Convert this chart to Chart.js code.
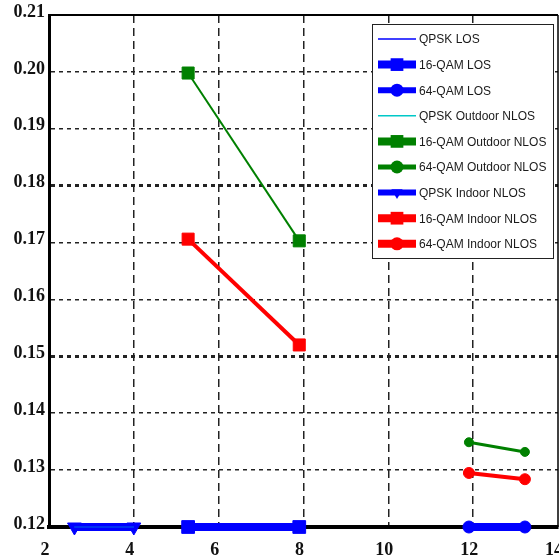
<!DOCTYPE html>
<html>
<head>
<meta charset="utf-8">
<script src="https://cdn.jsdelivr.net/npm/chart.js@4.4.1/dist/chart.umd.min.js"></script>
<style>
  html, body { margin: 0; padding: 0; background: #fff; overflow: hidden; }
  #wrap { width: 559px; height: 558px; overflow: hidden; }
</style>
</head>
<body>
<div id="wrap"><canvas id="chart" width="568" height="558"></canvas></div>
<script>
// ---------------- DATA ----------------
const xTicks = [2, 4, 6, 8, 10, 12, 14];
const yTicks = [0.12, 0.13, 0.14, 0.15, 0.16, 0.17, 0.18, 0.19, 0.20, 0.21];

const xQpsk = [2.6, 4.0];
const x16 = [5.28, 7.9];
const x64 = [11.9, 13.22];

const qpskLos = [0.12, 0.12];
const qam16Los = [0.12, 0.12];
const qam64Los = [0.12, 0.12];
const qpskOutdoor = [0.12, 0.12];
const qam16Outdoor = [0.1998, 0.1703];
const qam64Outdoor = [0.1349, 0.1332];
const qpskIndoor = [0.12, 0.12];
const qam16Indoor = [0.1706, 0.152];
const qam64Indoor = [0.1295, 0.1284];

const seriesLabels = [
  "QPSK LOS",
  "16-QAM LOS",
  "64-QAM LOS",
  "QPSK Outdoor NLOS",
  "16-QAM Outdoor NLOS",
  "64-QAM Outdoor NLOS",
  "QPSK Indoor NLOS",
  "16-QAM Indoor NLOS",
  "64-QAM Indoor NLOS",
];

const BLUE = "#0000ff";
const GREEN = "#008000";
const RED = "#ff0000";
const CYAN = "#00c8c8";

function pts(xs, ys) {
  return xs.map((x, i) => ({ x, y: ys[i] }));
}

// style per series: line width, marker, legend sample width
function series(label, xs, ys, color, width, style, radius, legendWidth, extra) {
  return Object.assign({
    label,
    data: pts(xs, ys),
    borderColor: color,
    backgroundColor: color,
    borderWidth: width,
    pointStyle: style || false,
    pointRadius: style ? radius : 0,
    pointBorderWidth: 1,
    pointBorderColor: color,
    pointBackgroundColor: color,
    legendWidth,
    clip: false,
    tension: 0,
  }, extra || {});
}

const datasets = [
  series(seriesLabels[0], xQpsk, qpskLos, BLUE, 1, null, 0, 1.5),
  series(seriesLabels[1], x16, qam16Los, BLUE, 8, "rect", 9, 8),
  series(seriesLabels[2], x64, qam64Los, BLUE, 8, "circle", 6, 6),
  series(seriesLabels[3], xQpsk, qpskOutdoor, CYAN, 1, null, 0, 1.5),
  series(seriesLabels[4], x16, qam16Outdoor, GREEN, 2, "rect", 8.5, 8),
  series(seriesLabels[5], x64, qam64Outdoor, GREEN, 3, "circle", 4.5, 5),
  series(seriesLabels[6], xQpsk, qpskIndoor, BLUE, 8, "triangle", 8, 6, { pointRotation: 180 }),
  series(seriesLabels[7], x16, qam16Indoor, RED, 4, "rect", 8.5, 8),
  series(seriesLabels[8], x64, qam64Indoor, RED, 4, "circle", 5.5, 8),
];

const tickFont = { family: "'Liberation Serif', 'DejaVu Serif', serif", weight: "bold", size: 18 };
const near = (a, b) => Math.abs(a - b) < 1e-6;

// ---------------- PLUGINS ----------------
const frame = {
  id: "frame",
  beforeDatasetsDraw(chart) {
    const { ctx, chartArea: a } = chart;
    ctx.save();
    ctx.strokeStyle = "#000";
    ctx.lineWidth = 2;
    ctx.beginPath();
    ctx.moveTo(a.left, a.top);
    ctx.lineTo(a.right, a.top);
    ctx.stroke();
    ctx.lineWidth = 1.5;
    ctx.beginPath();
    ctx.moveTo(a.right, a.top);
    ctx.lineTo(a.right, a.bottom);
    ctx.stroke();
    ctx.restore();
  },
};

// x tick labels drawn from the x scale, so they may run off the right edge like the original
const xLabels = {
  id: "xLabels",
  afterDraw(chart) {
    const { ctx, scales } = chart;
    const sx = scales.x;
    ctx.save();
    ctx.fillStyle = "#111";
    ctx.font = `${tickFont.weight} ${tickFont.size}px ${tickFont.family}`;
    ctx.textAlign = "center";
    ctx.textBaseline = "middle";
    sx.ticks.forEach((t) => {
      ctx.fillText(String(t.value), sx.getPixelForValue(t.value) - 4, chart.chartArea.bottom + 23);
    });
    ctx.restore();
  },
};

function drawMarker(ctx, style, x, y, r) {
  ctx.beginPath();
  if (style === "rect") {
    const s = r * Math.SQRT1_2;
    ctx.rect(x - s, y - s, 2 * s, 2 * s);
  } else if (style === "circle") {
    ctx.arc(x, y, r, 0, Math.PI * 2);
  } else if (style === "triangle") {
    ctx.moveTo(x - r * 0.87, y - r * 0.5);
    ctx.lineTo(x + r * 0.87, y - r * 0.5);
    ctx.lineTo(x, y + r);
    ctx.closePath();
  }
  ctx.fill();
}

const boxLegend = {
  id: "boxLegend",
  afterDraw(chart) {
    const ctx = chart.ctx;
    const left = 372, top = 24, w = 181, h = 234;
    const row0 = 39, rowH = 25.6;
    ctx.save();
    ctx.fillStyle = "#fff";
    ctx.fillRect(left, top, w, h);
    ctx.strokeStyle = "#222";
    ctx.lineWidth = 1;
    ctx.strokeRect(left + 0.5, top + 0.5, w, h);
    chart.data.datasets.forEach((ds, i) => {
      const y = row0 + i * rowH;
      ctx.strokeStyle = ds.borderColor;
      ctx.fillStyle = ds.borderColor;
      ctx.lineWidth = ds.legendWidth;
      ctx.beginPath();
      ctx.moveTo(378, y);
      ctx.lineTo(416, y);
      ctx.stroke();
      if (ds.pointStyle) drawMarker(ctx, ds.pointStyle, 397, y, ds.pointStyle === "rect" ? 9 : 6.5);
      ctx.fillStyle = "#1a1a1a";
      ctx.font = "12px 'Liberation Sans', Arial, sans-serif";
      ctx.textBaseline = "middle";
      ctx.textAlign = "left";
      ctx.fillText(ds.label, 419, y + 1);
    });
    ctx.restore();
  },
};

// ---------------- CHART ----------------
// canvas is a little wider than the window so the plot's right edge sits where the original's does
new Chart(document.getElementById("chart"), {
  type: "line",
  data: { datasets },
  plugins: [frame, xLabels, boxLegend],
  options: {
    responsive: false,
    animation: false,
    layout: { padding: { top: 15, right: 2, left: 0, bottom: 0 } },
    plugins: { legend: { display: false }, tooltip: { enabled: false } },
    scales: {
      x: {
        type: "linear",
        min: xTicks[0],
        max: xTicks[xTicks.length - 1],
        afterBuildTicks: (s) => { s.ticks = xTicks.map((v) => ({ value: v })); },
        afterFit: (s) => { s.height = 31; },
        ticks: { display: false },
        grid: {
          drawTicks: false,
          color: (c) => (c.tick && (near(c.tick.value, 14) || near(c.tick.value, 2)) ? "rgba(0,0,0,0)" : "#222"),
          lineWidth: 1.5,
        },
        border: { color: "#000", width: 4, dash: [8, 5] },
      },
      y: {
        min: yTicks[0],
        max: yTicks[yTicks.length - 1],
        afterBuildTicks: (s) => { s.ticks = yTicks.map((v) => ({ value: v })); },
        afterFit: (s) => { s.width = 49; },
        ticks: {
          font: tickFont,
          color: "#111",
          padding: 4,
          labelOffset: -3,
          callback: (v) => v.toFixed(2),
        },
        grid: {
          drawTicks: false,
          color: (c) => (c.tick && near(c.tick.value, 0.21) ? "rgba(0,0,0,0)" : "#222"),
          lineWidth: (c) => (c.tick && (near(c.tick.value, 0.18) || near(c.tick.value, 0.15)) ? 3 : 1.5),
        },
        border: { color: "#000", width: 3, dash: [4, 4] },
      },
    },
  },
});
</script>
</body>
</html>
